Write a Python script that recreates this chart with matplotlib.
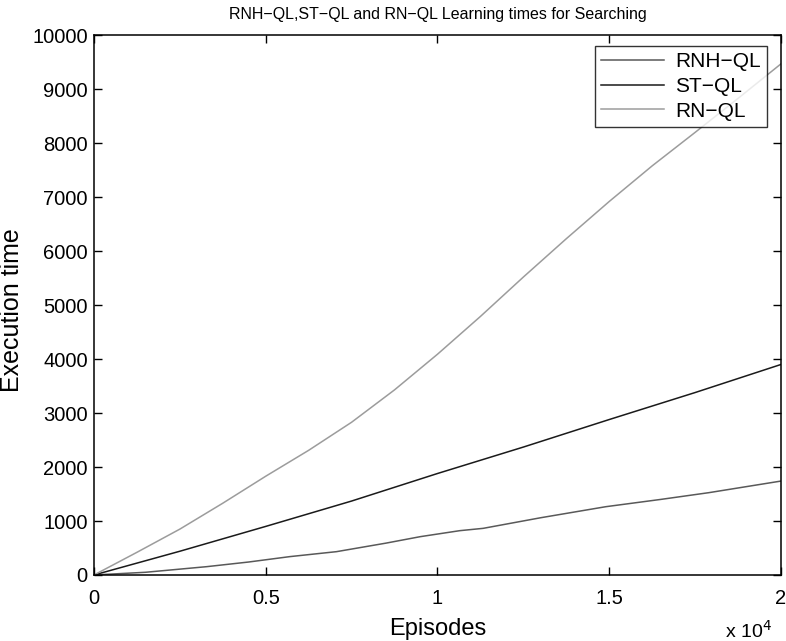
import numpy as np
import matplotlib
matplotlib.use("Agg")
import matplotlib.pyplot as plt
from matplotlib.ticker import FuncFormatter

plt.rcParams['font.family'] = ['Liberation Sans', 'DejaVu Sans']

# RNH-QL (episodes, execution time)
rnh_x = [0, 1500, 3280, 4500, 5700, 7060, 8500, 9500, 10650, 11330,
         13000, 14900, 16500, 17900, 20000]
rnh_y = [0, 50, 154, 240, 340, 432, 590, 710, 821, 864,
         1060, 1265, 1400, 1525, 1740]

# ST-QL
st_x = [0, 2500, 5000, 7500, 10000, 12500, 15000, 17500, 20000]
st_y = [0, 440, 900, 1370, 1880, 2370, 2880, 3380, 3900]

# RN-QL
rn_x = [0, 1250, 2500, 3750, 5000, 6250, 7500, 8750, 10000, 11250,
        12500, 13750, 15000, 16250, 17500, 18750, 20000]
rn_y = [0, 420, 850, 1330, 1830, 2310, 2830, 3430, 4090, 4790,
        5520, 6230, 6920, 7580, 8200, 8830, 9470]

series_names = ['RNH\u2212QL', 'ST\u2212QL', 'RN\u2212QL']
series_colors = ['#595959', '#1a1a1a', '#9c9c9c']

fig = plt.figure(figsize=(7.86, 6.41), dpi=100)
ax = fig.add_axes([0.1196, 0.103, 0.874, 0.842])

data = [(rnh_x, rnh_y), (st_x, st_y), (rn_x, rn_y)]
for (xs, ys), name, col in zip(data, series_names, series_colors):
    ax.plot(xs, ys, color=col, lw=1.1, label=name)

ax.set_xlim(0, 20000)
ax.set_ylim(0, 10000)
ax.set_xticks(np.arange(0, 20001, 5000))
ax.set_yticks(np.arange(0, 10001, 1000))
ax.xaxis.set_major_formatter(FuncFormatter(lambda v, p: '%g' % (v / 1e4)))
ax.tick_params(direction='in', top=True, right=True, length=6, width=1,
               labelsize=14.5)
ax.tick_params(axis='y', pad=4.5)
ax.tick_params(axis='x', pad=10)
for s in ax.spines.values():
    s.set_linewidth(1.1)

ax.set_title('RNH\u2212QL,ST\u2212QL and RN\u2212QL Learning times for Searching',
             fontsize=11.5, pad=12)
ax.set_xlabel('Episodes', fontsize=17, labelpad=7)
ax.set_ylabel('Execution time', fontsize=18)
ax.yaxis.set_label_coords(-0.102, 0.49)
# the x10^4 multiplier under the right end of the x axis
fig.text(748 / 786, 3 / 641, 'x 10$^4$', fontsize=14, ha='center',
         va='baseline')

leg = ax.legend(loc='upper right', bbox_to_anchor=(0.98, 0.98),
                fontsize=15, frameon=True, fancybox=False, edgecolor='black',
                handlelength=3.0, handletextpad=0.55, labelspacing=0.27,
                borderpad=0.3, borderaxespad=0)
leg.get_frame().set_linewidth(1.0)

fig.savefig('out.png', dpi=100)
